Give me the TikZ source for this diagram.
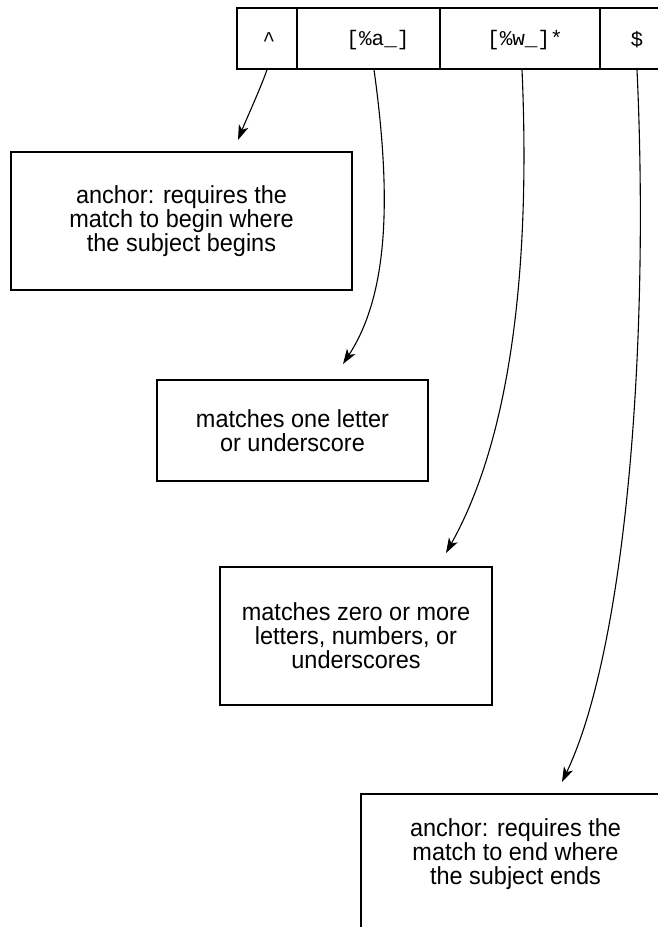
\documentclass[tikz,border=0pt]{standalone}
\usepackage{fontspec}
\setmainfont[FakeStretch=0.95]{Liberation Sans}
\newfontfamily\codefont{Liberation Mono}
\usetikzlibrary{arrows.meta}
\begin{document}
\begin{tikzpicture}[x=1pt,y=1pt,
  cell/.style={draw,line width=1.1pt,inner sep=0pt},
  code/.style={font=\codefont\fontsize{21}{24}\selectfont,inner sep=0pt},
  note/.style={draw,line width=1.1pt,align=center,inner sep=0pt,
    font=\fontsize{24.7}{24}\selectfont},
  conn/.style={line width=1.1pt,-{Stealth[length=15pt,width=10pt,inset=4pt]}}]
\useasboundingbox (0,0) rectangle (658,-927);
\clip (0,0) rectangle (658,-927);
% top bar cells
\node[cell,minimum width=60pt,minimum height=61pt] (c1) at (267,-38.5) {};
\node[cell,minimum width=143pt,minimum height=61pt] (c2) at (368.5,-38.5) {};
\node[cell,minimum width=160pt,minimum height=61pt] (c3) at (520,-38.5) {};
\node[cell,minimum width=100pt,minimum height=61pt] (c4) at (650,-38.5) {};
\node[code] (t1) at (269,-40) {\^{}};
\node[code] (t2) at (378,-40) {[\%a\_]};
\node[code] (t3) at (525,-40) {[\%w\_]*};
\node[code] (t4) at (637,-40) {\$};
% notes
\node[note,minimum width=341pt,minimum height=138pt] (b1) at (181.5,-221)
  {anchor: requires the\\match to begin where\\the subject begins};
\node[note,minimum width=271pt,minimum height=101pt] (b2) at (292.5,-430.5)
  {matches one letter\\or underscore};
\node[note,minimum width=272pt,minimum height=138pt] (b3) at (356,-636)
  {matches zero or more\\letters, numbers, or\\underscores};
\node[note,minimum width=309pt,minimum height=150pt] (b4) at (515.5,-869)
  {anchor: requires the\\match to end where\\the subject ends\\[10pt]};
% arrow ends
\coordinate (e1) at (238,-140);
\coordinate (e2) at (343,-364);
\coordinate (e3) at (446,-553);
\coordinate (e4) at (562,-782);
\draw[conn] (c1.south) .. controls (262,-85) and (246,-120) .. (e1);
\draw[conn] ([xshift=5.5pt]c2.south) .. controls (392,-200) and (388,-295) .. (e2);
\draw[conn] ([xshift=2pt]c3.south) .. controls (530,-250) and (515,-430) .. (e3);
\draw[conn] ([xshift=-13pt]c4.south) .. controls (650,-350) and (625,-650) .. (e4);
\end{tikzpicture}
\end{document}
